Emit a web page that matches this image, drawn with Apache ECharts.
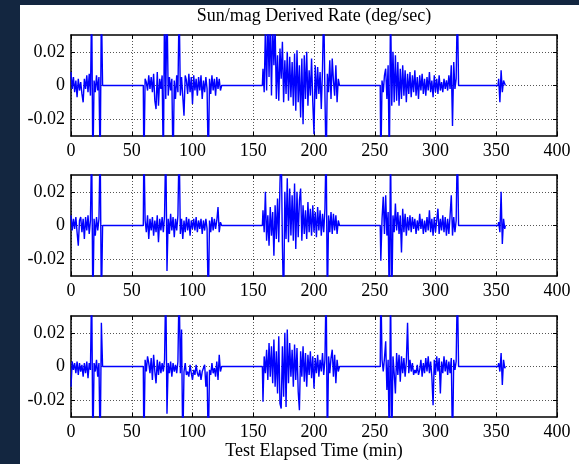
<!DOCTYPE html>
<html>
<head>
<meta charset="utf-8">
<script src="https://cdn.jsdelivr.net/npm/echarts@6/dist/echarts.min.js"></script>
<style>
  html, body { margin: 0; padding: 0; background: #132640; }
  #chart { position: absolute; left: 20px; top: 5px; width: 559px; height: 459px; background: #fff; }
</style>
</head>
<body>
<div id="chart"></div>
<script>
// time (min): 5 measurement segments joined by zero-rate gaps
const minutes = [
  0,1,2,3,4,5,6,7,8,9,10,11,12,13,14,15,16,17,18,19,20,21,22,23,24,25,26,
  59.5,
  60,61,62,63,64,65,66,67,68,69,70,71,72,73,74,75,76,77,78,79,
  80,81,82,83,84,85,86,87,88,89,90,91,92,93,94,95,96,97,98,99,
  100,101,102,103,104,105,106,107,108,109,110,111,112,113,114,115,116,117,118,119,
  120,121,122,123,124,
  157.5,
  158,159,160,161,162,163,164,165,166,167,168,169,170,171,172,173,174,175,176,177,
  178,179,180,181,182,183,184,185,186,187,188,189,190,191,192,193,194,195,196,197,
  198,199,200,201,202,203,204,205,206,207,208,209,210,211,212,213,214,215,216,217,
  218,219,220,221,
  254.5,
  255,256,257,258,259,260,261,262,263,264,265,266,267,268,269,270,271,272,273,274,
  275,276,277,278,279,280,281,282,283,284,285,286,287,288,289,290,291,292,293,294,
  295,296,297,298,299,300,301,302,303,304,305,306,307,308,309,310,311,312,313,314,
  315,316,317,318,319,
  351.5,
  352,353,354,355,356,357,357.5
];

// rate (deg/sec), top panel
const rate1 = [
  .008,-.002,.005,-.004,.003,-.007,.004,-.003,.002,-.005,
  -.010,.004,-.002,.006,-.004,.007,-.006,.05,-.05,.003,
  -.004,.006,-.003,.005,-.05,.05,0,
  0,
  -.05,.004,.002,-.003,.006,-.002,.005,-.004,.007,-.009,
  -.014,.008,-.012,.004,-.002,.006,-.05,.05,-.008,.05,
  -.006,.005,-.003,.004,-.05,.003,-.008,.006,-.004,.05,
  -.006,.005,.004,-.018,.006,.003,-.005,.007,-.004,.005,
  -.011,.006,-.003,.004,-.006,.005,-.003,.006,-.008,.003,
  -.004,.005,-.002,-.05,.004,-.005,.006,-.003,.004,-.006,
  .005,-.002,.004,-.003,0,
  0,
  .01,-.004,.035,-.003,.04,.005,.04,-.006,.038,.012,
  .035,-.008,.018,-.009,.022,.004,.026,-.01,.015,-.005,
  .02,-.009,.017,-.007,.014,-.012,.019,-.015,.021,-.01,
  .012,-.019,.016,-.023,.018,-.008,.02,-.012,.009,-.006,
  .016,-.01,-.029,.012,-.008,.011,-.005,.008,-.014,.01,
  .05,-.006,-.05,.007,-.004,.015,-.008,.016,.003,-.006,
  .012,-.01,.004,0,
  0,
  -.05,.003,-.004,.006,.01,-.008,.012,-.05,.05,-.012,
  .02,-.01,.018,-.009,.014,-.012,.01,-.008,.012,-.006,
  .009,-.01,.007,-.005,.008,-.007,.006,-.004,.009,-.006,
  .005,-.008,.006,-.003,.007,-.005,.004,-.006,.005,-.003,
  .008,-.004,.003,-.007,.006,-.004,.004,-.005,.006,-.003,
  .002,-.004,.004,-.002,.003,-.003,.006,-.002,.012,-.024,
  .014,-.002,.004,.05,0,
  0,
  .004,-.010,.009,-.004,.003,.001,0
];

// rate (deg/sec), middle panel
const rate2 = [
  .006,-.003,.004,-.002,.005,-.004,-.012,.003,.005,-.004,
  .004,-.008,.005,-.003,.006,-.005,.003,.05,-.05,.004,
  -.006,.005,-.003,.004,.05,-.05,0,
  0,
  .05,.003,-.004,.006,-.008,.004,-.003,.005,-.006,.003,
  -.004,.006,-.01,.004,-.003,.005,-.004,.006,.05,-.027,
  .004,-.005,.007,-.003,.005,-.007,.004,-.003,.006,.05,
  -.005,.004,-.008,.003,-.004,.005,-.003,.004,-.006,.003,
  -.002,.004,-.003,.005,-.004,.003,-.002,.004,-.005,.003,
  -.003,.004,-.002,-.05,.003,-.004,.005,-.003,.004,-.002,
  .003,.011,-.004,.002,0,
  0,
  .009,-.004,.02,-.009,.006,-.012,.011,-.006,.008,-.018,
  .012,-.008,.016,-.01,.025,.05,-.012,-.05,.02,-.008,
  .028,-.01,.022,-.006,.018,-.009,.025,-.014,.02,-.007,
  .015,.022,-.009,.012,-.005,.009,-.008,.014,-.004,.01,
  -.006,.012,-.004,.008,-.007,.011,-.003,.009,-.006,.007,
  -.004,.01,.05,-.05,.006,-.004,.008,-.005,.007,-.003,
  .006,-.005,.003,0,
  0,
  -.021,.004,.017,-.005,.018,-.006,.008,-.05,.05,-.05,
  .006,-.004,.013,-.003,.008,-.005,.006,-.016,.01,-.004,
  .007,-.006,.005,-.003,.006,-.004,.005,-.002,.004,-.005,
  .003,-.003,.007,-.002,.004,-.005,.003,-.004,.005,-.003,
  .009,-.004,.004,-.006,.005,-.004,.003,.01,-.005,.004,
  -.003,.006,-.004,.005,-.006,.004,-.005,.006,.018,-.006,
  .005,-.004,.003,.05,0,
  0,
  .002,-.004,.02,-.011,.004,-.002,0
];

// rate (deg/sec), bottom panel
const rate3 = [
  -.012,.003,-.002,.002,-.004,.003,-.005,.002,-.003,.001,
  -.006,.002,-.004,.003,-.007,.002,-.002,.05,-.05,.002,
  -.003,.004,-.006,.002,-.05,.026,0,
  0,
  -.05,.004,-.003,.006,.002,-.004,.005,-.008,.007,-.003,
  -.01,.004,-.005,.003,-.004,.002,-.003,.004,.05,-.028,
  .002,-.004,.003,-.006,.002,-.003,.001,-.004,.003,.05,
  -.004,.022,-.05,-.003,.002,-.005,-.003,-.006,.001,-.004,
  -.008,-.002,-.005,.001,-.004,-.006,-.002,-.008,-.003,-.004,
  .001,-.012,-.003,-.05,-.002,-.005,.002,-.004,-.001,-.006,
  .003,-.008,.007,-.003,0,
  0,
  -.021,.006,-.004,.01,-.008,.014,-.006,.012,-.01,.016,
  -.012,.009,-.016,.018,-.022,-.025,.012,-.018,.02,-.024,
  .022,-.01,.014,-.006,.01,-.012,.013,-.008,.011,-.015,
  -.026,.009,-.006,.012,-.009,.008,-.012,.007,-.005,.009,
  -.007,.006,-.013,.005,-.004,.007,-.006,.004,-.003,.008,
  -.005,.004,.05,-.05,.006,-.004,.005,.01,-.006,.007,
  -.01,.004,-.003,0,
  0,
  .05,.004,-.003,.005,.015,-.014,.004,-.05,.05,-.05,
  .006,-.004,-.016,.008,-.005,.007,-.009,.006,-.004,.005,
  -.006,.003,.026,-.004,.004,-.003,.002,-.005,-.002,-.004,
  .001,-.005,-.002,.004,-.006,.002,-.004,.005,-.003,.006,
  -.004,.003,-.006,-.023,.004,-.005,.006,-.003,.005,-.016,
  .003,-.004,.006,-.003,.004,-.005,.003,-.004,.005,-.05,
  .004,-.002,.003,.05,0,
  0,
  .002,-.003,.008,-.011,.004,-.001,0
];

const yTicks = [-0.02, 0, 0.02];
const titleText = 'Sun/mag Derived Rate (deg/sec)';
const xName = 'Test Elapsed Time (min)';

const fam = 'Liberation Serif';
const gridTops = [30, 170, 311];
const allRates = [rate1, rate2, rate3];

const myChart = echarts.init(document.getElementById('chart'));

let grids = [], xAxes = [], yAxes = [], series = [];
let axisLine = { show: true, onZero: false, lineStyle: { color: '#000', width: 1.5 } };
let tick = { show: true, inside: true, length: 4, lineStyle: { color: '#000', width: 1 } };
let grid = { show: true, lineStyle: { color: '#555', width: 1, type: [1, 2] } };

for (let i = 0; i < 3; i++) {
  grids.push({ left: 51, top: gridTops[i], width: 486, height: 101, containLabel: false });
  xAxes.push({
    gridIndex: i, type: 'value', min: 0, max: 400, interval: 50, position: 'bottom',
    axisLine: axisLine, axisTick: tick, splitLine: grid,
    axisLabel: { color: '#000', fontFamily: fam, fontSize: 18, margin: 6 },
    name: i === 2 ? xName : '', nameLocation: 'middle', nameGap: 25,
    nameTextStyle: { color: '#000', fontFamily: fam, fontSize: 18 }
  });
  xAxes.push({
    gridIndex: i, type: 'value', min: 0, max: 400, interval: 50, position: 'top',
    axisLine: axisLine, axisTick: tick, splitLine: { show: false },
    axisLabel: { show: false }
  });
  yAxes.push({
    gridIndex: i, type: 'value', min: -0.03, max: 0.03, interval: 0.01, position: 'left',
    axisLine: axisLine,
    axisTick: Object.assign({ customValues: yTicks }, tick),
    splitLine: Object.assign({ customValues: yTicks }, grid),
    axisLabel: { customValues: yTicks, color: '#000', fontFamily: fam, fontSize: 18, margin: 6 }
  });
  yAxes.push({
    gridIndex: i, type: 'value', min: -0.03, max: 0.03, interval: 0.01, position: 'right',
    axisLine: axisLine,
    axisTick: Object.assign({ customValues: yTicks }, tick),
    splitLine: { show: false }, axisLabel: { show: false }
  });
  let data = minutes.map(function (m, k) { return [m, allRates[i][k]]; });
  series.push({
    type: 'line', xAxisIndex: 2 * i, yAxisIndex: 2 * i, data: data,
    showSymbol: false, symbol: 'none', clip: true,
    lineStyle: { color: '#0000ff', width: 1.4 }
  });
}

let option = {
  animation: false,
  backgroundColor: '#fff',
  grid: grids,
  xAxis: xAxes,
  yAxis: yAxes,
  series: series,
  graphic: [{
    type: 'text', x: 294, y: 11,
    style: { text: titleText, fill: '#000', font: '18px "Liberation Serif"', textAlign: 'center', textVerticalAlign: 'middle' }
  }]
};
myChart.setOption(option);
</script>
</body>
</html>
